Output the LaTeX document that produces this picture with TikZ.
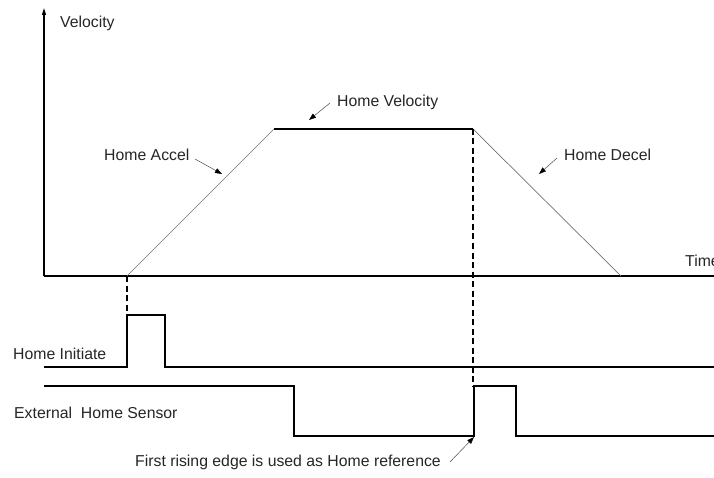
\documentclass[tikz,border=0pt]{standalone}
\usepackage{fontspec}
\setmainfont{Liberation Sans}
\usetikzlibrary{arrows.meta}
\begin{document}
\begin{tikzpicture}[x=1pt,y=-1pt,
  lbl/.style={font=\fontsize{15.8}{19}\selectfont, inner sep=0pt, anchor=base west, text=black!85},
  sig/.style={line width=1.2pt, black},
  ramp/.style={line width=0.7pt, black!55},
  guide/.style={line width=2pt, black, dash pattern=on 6pt off 3.5pt},
  callout/.style={line width=0.5pt, black!70, -{Triangle[length=7pt,width=5pt,black]}}]
\clip (0,0) rectangle (714,478);
\fill[white] (0,0) rectangle (714,478);
% axes
\coordinate (O) at (44,276);
\coordinate (ytop) at (44,8);
\coordinate (xend) at (714,276);
\draw[sig, -{Triangle[length=7pt,width=4pt]}] (O) -- (ytop);
\draw[sig] (O) -- (xend);
% velocity profile
\coordinate (a0) at (127,276);
\coordinate (a1) at (274,129);
\coordinate (a2) at (473,129);
\coordinate (a3) at (621,276);
\draw[ramp] (a0) -- (a1);
\draw[sig] (a1) -- (a2);
\draw[ramp] (a2) -- (a3);
% dashed guides
\coordinate (g0) at (127,313);
\coordinate (g1) at (473,387);
\draw[guide] (a0) -- (g0);
\draw[guide] (a2) -- (g1);
% signals
\draw[sig] (44,367) -- (127,367) -- (127,315) -- (165,315) -- (165,367) -- (714,367);
\draw[sig] (44,386) -- (294,386) -- (294,436) -- (474,436) -- (474,386) -- (516,386) -- (516,436) -- (714,436);
% labels
\node[lbl] (vel) at (60,28) {Velocity};
\node[lbl] (time) at (685,266) {Time};
\node[lbl] (acc) at (104,161) {Home Accel};
\node[lbl] (hv) at (337,107) {Home Velocity};
\node[lbl] (dec) at (564,161) {Home Decel};
\node[lbl] (hi) at (13,359) {Home Initiate};
\node[lbl] (ehs) at (14,418) {External\ \ Home Sensor};
\node[lbl] (ref) at (135,466) {First rising edge is used as Home reference};
% callouts
\coordinate (c1s) at (195,159); \coordinate (c1e) at (222,174);
\coordinate (c2s) at (330,103); \coordinate (c2e) at (309,120);
\coordinate (c3s) at (557,158); \coordinate (c3e) at (539,174);
\coordinate (c4s) at (450,462); \coordinate (c4e) at (474,437);
\draw[callout] (c1s) -- (c1e);
\draw[callout] (c2s) -- (c2e);
\draw[callout] (c3s) -- (c3e);
\draw[callout] (c4s) -- (c4e);
\end{tikzpicture}
\end{document}
